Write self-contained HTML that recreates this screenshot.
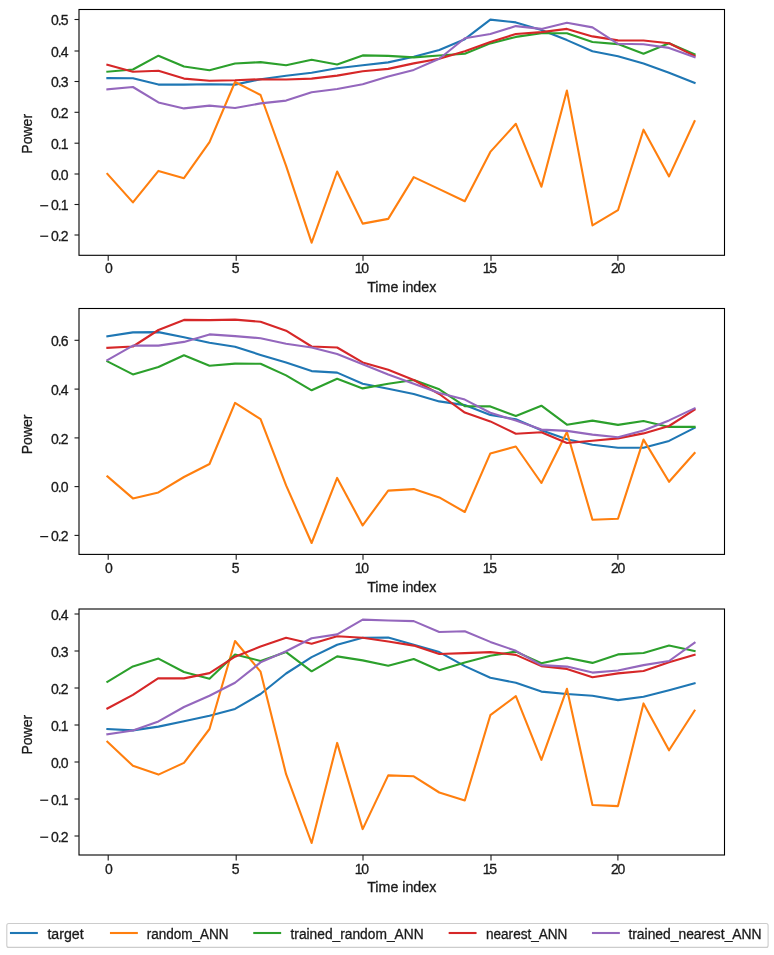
<!DOCTYPE html>
<html><head><meta charset="utf-8"><style>
html,body{margin:0;padding:0;background:#fff;width:774px;height:955px;overflow:hidden;font-family:"Liberation Sans",sans-serif;}
</style></head><body>
<svg width="774" height="955" viewBox="0 0 774 955" style="display:block;will-change:transform">
<rect width="774" height="955" fill="#fff"/>
<polyline points="107.38,78.10 132.91,78.20 158.44,84.60 183.97,84.60 209.50,84.20 235.03,84.60 260.56,79.20 286.09,75.80 311.62,72.70 337.15,68.20 362.68,65.20 388.21,62.40 413.74,56.80 439.27,50.00 464.80,39.20 490.33,19.60 515.86,22.40 541.39,29.90 566.92,40.10 592.45,51.30 617.98,56.30 643.51,63.40 669.04,72.70 694.57,82.90" fill="none" stroke="#1f77b4" stroke-width="2.1" stroke-linejoin="round" stroke-linecap="square"/>
<polyline points="107.38,173.90 132.91,202.40 158.44,170.90 183.97,178.20 209.50,142.10 235.03,82.00 260.56,95.00 286.09,165.90 311.62,242.70 337.15,171.50 362.68,223.60 388.21,218.90 413.74,177.10 439.27,189.10 464.80,201.20 490.33,151.90 515.86,123.80 541.39,186.70 566.92,90.60 592.45,225.40 617.98,210.20 643.51,129.70 669.04,176.40 694.57,121.20" fill="none" stroke="#ff7f0e" stroke-width="2.1" stroke-linejoin="round" stroke-linecap="square"/>
<polyline points="107.38,71.70 132.91,69.50 158.44,55.70 183.97,66.50 209.50,70.20 235.03,63.50 260.56,62.10 286.09,65.20 311.62,59.80 337.15,64.50 362.68,55.40 388.21,55.90 413.74,57.40 439.27,55.50 464.80,53.70 490.33,43.40 515.86,36.90 541.39,33.20 566.92,33.20 592.45,42.00 617.98,44.10 643.51,53.70 669.04,43.30 694.57,54.40" fill="none" stroke="#2ca02c" stroke-width="2.1" stroke-linejoin="round" stroke-linecap="square"/>
<polyline points="107.38,64.80 132.91,71.70 158.44,70.80 183.97,78.60 209.50,80.70 235.03,80.30 260.56,79.20 286.09,79.50 311.62,78.60 337.15,75.60 362.68,71.20 388.21,68.90 413.74,63.40 439.27,58.70 464.80,51.30 490.33,42.00 515.86,34.00 541.39,32.10 566.92,28.90 592.45,36.40 617.98,40.40 643.51,40.50 669.04,43.30 694.57,55.90" fill="none" stroke="#d62728" stroke-width="2.1" stroke-linejoin="round" stroke-linecap="square"/>
<polyline points="107.38,89.40 132.91,87.00 158.44,102.40 183.97,108.40 209.50,105.60 235.03,108.00 260.56,103.40 286.09,100.60 311.62,92.20 337.15,89.00 362.68,84.20 388.21,76.40 413.74,69.90 439.27,58.70 464.80,38.20 490.33,34.00 515.86,26.10 541.39,28.90 566.92,22.80 592.45,27.40 617.98,43.80 643.51,44.20 669.04,47.90 694.57,57.20" fill="none" stroke="#9467bd" stroke-width="2.1" stroke-linejoin="round" stroke-linecap="square"/>
<rect x="79.0" y="9.5" width="645.5" height="245.8" fill="none" stroke="#000" stroke-width="1.1"/>
<line x1="74.5" y1="19.5" x2="79.0" y2="19.5" stroke="#1a1a1a" stroke-width="1.1"/>
<text x="67.7" y="25.2" text-anchor="end" letter-spacing="-0.9" font-family="Liberation Sans, sans-serif" font-size="14" fill="#1a1a1a" stroke="#1a1a1a" stroke-width="0.3">0.5</text>
<line x1="74.5" y1="51.0" x2="79.0" y2="51.0" stroke="#1a1a1a" stroke-width="1.1"/>
<text x="67.7" y="56.7" text-anchor="end" letter-spacing="-0.9" font-family="Liberation Sans, sans-serif" font-size="14" fill="#1a1a1a" stroke="#1a1a1a" stroke-width="0.3">0.4</text>
<line x1="74.5" y1="81.5" x2="79.0" y2="81.5" stroke="#1a1a1a" stroke-width="1.1"/>
<text x="67.7" y="87.2" text-anchor="end" letter-spacing="-0.9" font-family="Liberation Sans, sans-serif" font-size="14" fill="#1a1a1a" stroke="#1a1a1a" stroke-width="0.3">0.3</text>
<line x1="74.5" y1="112.3" x2="79.0" y2="112.3" stroke="#1a1a1a" stroke-width="1.1"/>
<text x="67.7" y="118.0" text-anchor="end" letter-spacing="-0.9" font-family="Liberation Sans, sans-serif" font-size="14" fill="#1a1a1a" stroke="#1a1a1a" stroke-width="0.3">0.2</text>
<line x1="74.5" y1="143.2" x2="79.0" y2="143.2" stroke="#1a1a1a" stroke-width="1.1"/>
<text x="67.7" y="148.9" text-anchor="end" letter-spacing="-0.9" font-family="Liberation Sans, sans-serif" font-size="14" fill="#1a1a1a" stroke="#1a1a1a" stroke-width="0.3">0.1</text>
<line x1="74.5" y1="174.0" x2="79.0" y2="174.0" stroke="#1a1a1a" stroke-width="1.1"/>
<text x="67.7" y="179.7" text-anchor="end" letter-spacing="-0.9" font-family="Liberation Sans, sans-serif" font-size="14" fill="#1a1a1a" stroke="#1a1a1a" stroke-width="0.3">0.0</text>
<line x1="74.5" y1="204.5" x2="79.0" y2="204.5" stroke="#1a1a1a" stroke-width="1.1"/>
<rect x="40.2" y="205.10" width="8.0" height="1.25" fill="#1a1a1a"/>
<text x="67.7" y="210.2" text-anchor="end" letter-spacing="-0.9" font-family="Liberation Sans, sans-serif" font-size="14" fill="#1a1a1a" stroke="#1a1a1a" stroke-width="0.3">0.1</text>
<line x1="74.5" y1="235.0" x2="79.0" y2="235.0" stroke="#1a1a1a" stroke-width="1.1"/>
<rect x="40.2" y="235.60" width="8.0" height="1.25" fill="#1a1a1a"/>
<text x="67.7" y="240.7" text-anchor="end" letter-spacing="-0.9" font-family="Liberation Sans, sans-serif" font-size="14" fill="#1a1a1a" stroke="#1a1a1a" stroke-width="0.3">0.2</text>
<line x1="108.2" y1="255.3" x2="108.2" y2="260.7" stroke="#1a1a1a" stroke-width="1.1"/>
<text x="109.00" y="273.1" text-anchor="middle" font-family="Liberation Sans, sans-serif" font-size="14" fill="#1a1a1a" stroke="#1a1a1a" stroke-width="0.3">0</text>
<line x1="236.2" y1="255.3" x2="236.2" y2="260.7" stroke="#1a1a1a" stroke-width="1.1"/>
<text x="235.60" y="273.1" text-anchor="middle" font-family="Liberation Sans, sans-serif" font-size="14" fill="#1a1a1a" stroke="#1a1a1a" stroke-width="0.3">5</text>
<line x1="363.0" y1="255.3" x2="363.0" y2="260.7" stroke="#1a1a1a" stroke-width="1.1"/>
<text x="361.30" y="273.1" text-anchor="middle" letter-spacing="-1.3" font-family="Liberation Sans, sans-serif" font-size="14" fill="#1a1a1a" stroke="#1a1a1a" stroke-width="0.3">10</text>
<line x1="491.0" y1="255.3" x2="491.0" y2="260.7" stroke="#1a1a1a" stroke-width="1.1"/>
<text x="489.30" y="273.1" text-anchor="middle" letter-spacing="-1.3" font-family="Liberation Sans, sans-serif" font-size="14" fill="#1a1a1a" stroke="#1a1a1a" stroke-width="0.3">15</text>
<line x1="617.9" y1="255.3" x2="617.9" y2="260.7" stroke="#1a1a1a" stroke-width="1.1"/>
<text x="617.40" y="273.1" text-anchor="middle" letter-spacing="-1.3" font-family="Liberation Sans, sans-serif" font-size="14" fill="#1a1a1a" stroke="#1a1a1a" stroke-width="0.3">20</text>
<text x="401.75" y="291.5" text-anchor="middle" textLength="69.1" lengthAdjust="spacingAndGlyphs" font-family="Liberation Sans, sans-serif" font-size="14" fill="#1a1a1a" stroke="#1a1a1a" stroke-width="0.3">Time index</text>
<text x="0" y="0" transform="translate(31.6 133.8) rotate(-90)" text-anchor="middle" font-family="Liberation Sans, sans-serif" font-size="14" fill="#1a1a1a" stroke="#1a1a1a" stroke-width="0.3">Power</text>
<polyline points="107.38,336.30 132.91,332.40 158.44,332.10 183.97,337.20 209.50,342.80 235.03,346.80 260.56,354.90 286.09,362.40 311.62,371.10 337.15,372.60 362.68,383.70 388.21,388.80 413.74,394.00 439.27,401.40 464.80,405.10 490.33,414.90 515.86,419.30 541.39,430.20 566.92,439.20 592.45,444.80 617.98,447.70 643.51,447.70 669.04,440.90 694.57,427.80" fill="none" stroke="#1f77b4" stroke-width="2.1" stroke-linejoin="round" stroke-linecap="square"/>
<polyline points="107.38,476.40 132.91,498.40 158.44,492.40 183.97,477.00 209.50,464.00 235.03,402.90 260.56,419.10 286.09,485.40 311.62,543.00 337.15,477.90 362.68,525.40 388.21,490.60 413.74,489.10 439.27,497.40 464.80,512.00 490.33,453.40 515.86,446.50 541.39,483.00 566.92,432.00 592.45,519.80 617.98,518.80 643.51,439.60 669.04,481.80 694.57,453.00" fill="none" stroke="#ff7f0e" stroke-width="2.1" stroke-linejoin="round" stroke-linecap="square"/>
<polyline points="107.38,361.40 132.91,374.40 158.44,367.00 183.97,355.30 209.50,365.70 235.03,363.60 260.56,363.80 286.09,375.40 311.62,390.30 337.15,378.70 362.68,388.40 388.21,383.70 413.74,380.00 439.27,389.30 464.80,406.10 490.33,406.40 515.86,416.00 541.39,405.70 566.92,424.70 592.45,420.60 617.98,424.90 643.51,421.00 669.04,426.90 694.57,426.90" fill="none" stroke="#2ca02c" stroke-width="2.1" stroke-linejoin="round" stroke-linecap="square"/>
<polyline points="107.38,347.80 132.91,346.50 158.44,330.00 183.97,319.90 209.50,320.10 235.03,319.60 260.56,321.80 286.09,330.70 311.62,346.50 337.15,347.50 362.68,362.40 388.21,369.80 413.74,380.00 439.27,394.00 464.80,412.60 490.33,421.40 515.86,433.70 541.39,432.20 566.92,443.00 592.45,440.70 617.98,438.40 643.51,433.40 669.04,426.00 694.57,409.80" fill="none" stroke="#d62728" stroke-width="2.1" stroke-linejoin="round" stroke-linecap="square"/>
<polyline points="107.38,360.10 132.91,345.60 158.44,345.60 183.97,341.90 209.50,334.40 235.03,336.10 260.56,338.20 286.09,343.70 311.62,347.50 337.15,354.00 362.68,364.20 388.21,374.40 413.74,383.70 439.27,393.10 464.80,399.60 490.33,412.70 515.86,420.60 541.39,429.60 566.92,430.90 592.45,434.60 617.98,437.20 643.51,430.60 669.04,420.40 694.57,408.30" fill="none" stroke="#9467bd" stroke-width="2.1" stroke-linejoin="round" stroke-linecap="square"/>
<rect x="79.0" y="308.5" width="645.5" height="245.89999999999998" fill="none" stroke="#000" stroke-width="1.1"/>
<line x1="74.5" y1="340.3" x2="79.0" y2="340.3" stroke="#1a1a1a" stroke-width="1.1"/>
<text x="67.7" y="346.0" text-anchor="end" letter-spacing="-0.9" font-family="Liberation Sans, sans-serif" font-size="14" fill="#1a1a1a" stroke="#1a1a1a" stroke-width="0.3">0.6</text>
<line x1="74.5" y1="389.1" x2="79.0" y2="389.1" stroke="#1a1a1a" stroke-width="1.1"/>
<text x="67.7" y="394.8" text-anchor="end" letter-spacing="-0.9" font-family="Liberation Sans, sans-serif" font-size="14" fill="#1a1a1a" stroke="#1a1a1a" stroke-width="0.3">0.4</text>
<line x1="74.5" y1="437.9" x2="79.0" y2="437.9" stroke="#1a1a1a" stroke-width="1.1"/>
<text x="67.7" y="443.6" text-anchor="end" letter-spacing="-0.9" font-family="Liberation Sans, sans-serif" font-size="14" fill="#1a1a1a" stroke="#1a1a1a" stroke-width="0.3">0.2</text>
<line x1="74.5" y1="486.6" x2="79.0" y2="486.6" stroke="#1a1a1a" stroke-width="1.1"/>
<text x="67.7" y="492.3" text-anchor="end" letter-spacing="-0.9" font-family="Liberation Sans, sans-serif" font-size="14" fill="#1a1a1a" stroke="#1a1a1a" stroke-width="0.3">0.0</text>
<line x1="74.5" y1="535.4" x2="79.0" y2="535.4" stroke="#1a1a1a" stroke-width="1.1"/>
<rect x="40.2" y="536.00" width="8.0" height="1.25" fill="#1a1a1a"/>
<text x="67.7" y="541.1" text-anchor="end" letter-spacing="-0.9" font-family="Liberation Sans, sans-serif" font-size="14" fill="#1a1a1a" stroke="#1a1a1a" stroke-width="0.3">0.2</text>
<line x1="108.2" y1="554.4" x2="108.2" y2="559.8" stroke="#1a1a1a" stroke-width="1.1"/>
<text x="109.00" y="573.3" text-anchor="middle" font-family="Liberation Sans, sans-serif" font-size="14" fill="#1a1a1a" stroke="#1a1a1a" stroke-width="0.3">0</text>
<line x1="236.2" y1="554.4" x2="236.2" y2="559.8" stroke="#1a1a1a" stroke-width="1.1"/>
<text x="235.60" y="573.3" text-anchor="middle" font-family="Liberation Sans, sans-serif" font-size="14" fill="#1a1a1a" stroke="#1a1a1a" stroke-width="0.3">5</text>
<line x1="363.0" y1="554.4" x2="363.0" y2="559.8" stroke="#1a1a1a" stroke-width="1.1"/>
<text x="361.30" y="573.3" text-anchor="middle" letter-spacing="-1.3" font-family="Liberation Sans, sans-serif" font-size="14" fill="#1a1a1a" stroke="#1a1a1a" stroke-width="0.3">10</text>
<line x1="491.0" y1="554.4" x2="491.0" y2="559.8" stroke="#1a1a1a" stroke-width="1.1"/>
<text x="489.30" y="573.3" text-anchor="middle" letter-spacing="-1.3" font-family="Liberation Sans, sans-serif" font-size="14" fill="#1a1a1a" stroke="#1a1a1a" stroke-width="0.3">15</text>
<line x1="617.9" y1="554.4" x2="617.9" y2="559.8" stroke="#1a1a1a" stroke-width="1.1"/>
<text x="617.40" y="573.3" text-anchor="middle" letter-spacing="-1.3" font-family="Liberation Sans, sans-serif" font-size="14" fill="#1a1a1a" stroke="#1a1a1a" stroke-width="0.3">20</text>
<text x="401.75" y="591.5" text-anchor="middle" textLength="69.1" lengthAdjust="spacingAndGlyphs" font-family="Liberation Sans, sans-serif" font-size="14" fill="#1a1a1a" stroke="#1a1a1a" stroke-width="0.3">Time index</text>
<text x="0" y="0" transform="translate(31.6 434.4) rotate(-90)" text-anchor="middle" font-family="Liberation Sans, sans-serif" font-size="14" fill="#1a1a1a" stroke="#1a1a1a" stroke-width="0.3">Power</text>
<polyline points="107.38,729.10 132.91,730.40 158.44,726.60 183.97,721.30 209.50,715.70 235.03,708.90 260.56,694.00 286.09,673.50 311.62,657.10 337.15,644.70 362.68,637.70 388.21,637.60 413.74,644.70 439.27,652.10 464.80,666.10 490.33,677.80 515.86,682.80 541.39,691.60 566.92,694.00 592.45,695.80 617.98,700.10 643.51,696.70 669.04,690.20 694.57,683.30" fill="none" stroke="#1f77b4" stroke-width="2.1" stroke-linejoin="round" stroke-linecap="square"/>
<polyline points="107.38,741.70 132.91,765.80 158.44,774.60 183.97,762.90 209.50,729.00 235.03,641.00 260.56,671.70 286.09,774.20 311.62,843.00 337.15,742.90 362.68,829.10 388.21,775.40 413.74,776.30 439.27,792.50 464.80,800.50 490.33,715.20 515.86,696.20 541.39,759.90 566.92,688.80 592.45,805.00 617.98,806.10 643.51,703.40 669.04,750.30 694.57,710.60" fill="none" stroke="#ff7f0e" stroke-width="2.1" stroke-linejoin="round" stroke-linecap="square"/>
<polyline points="107.38,681.90 132.91,666.40 158.44,658.60 183.97,672.00 209.50,678.70 235.03,654.50 260.56,660.90 286.09,652.10 311.62,671.30 337.15,656.40 362.68,660.40 388.21,665.70 413.74,659.00 439.27,670.20 464.80,662.40 490.33,655.80 515.86,651.60 541.39,663.30 566.92,657.70 592.45,662.90 617.98,654.40 643.51,653.00 669.04,645.50 694.57,651.10" fill="none" stroke="#2ca02c" stroke-width="2.1" stroke-linejoin="round" stroke-linecap="square"/>
<polyline points="107.38,708.50 132.91,694.90 158.44,678.20 183.97,678.40 209.50,673.10 235.03,656.70 260.56,646.50 286.09,637.80 311.62,643.70 337.15,636.30 362.68,637.80 388.21,641.50 413.74,645.60 439.27,654.00 464.80,653.10 490.33,652.10 515.86,654.90 541.39,666.10 566.92,668.90 592.45,677.20 617.98,673.40 643.51,671.00 669.04,662.30 694.57,654.80" fill="none" stroke="#d62728" stroke-width="2.1" stroke-linejoin="round" stroke-linecap="square"/>
<polyline points="107.38,734.20 132.91,730.50 158.44,721.40 183.97,707.00 209.50,695.80 235.03,682.80 260.56,662.40 286.09,651.20 311.62,638.20 337.15,634.40 362.68,619.60 388.21,620.50 413.74,621.10 439.27,632.00 464.80,631.30 490.33,641.90 515.86,650.80 541.39,665.10 566.92,666.60 592.45,672.60 617.98,670.50 643.51,665.10 669.04,661.00 694.57,642.70" fill="none" stroke="#9467bd" stroke-width="2.1" stroke-linejoin="round" stroke-linecap="square"/>
<rect x="79.0" y="609.0" width="645.5" height="246.0" fill="none" stroke="#000" stroke-width="1.1"/>
<line x1="74.5" y1="614.0" x2="79.0" y2="614.0" stroke="#1a1a1a" stroke-width="1.1"/>
<text x="67.7" y="619.7" text-anchor="end" letter-spacing="-0.9" font-family="Liberation Sans, sans-serif" font-size="14" fill="#1a1a1a" stroke="#1a1a1a" stroke-width="0.3">0.4</text>
<line x1="74.5" y1="651.0" x2="79.0" y2="651.0" stroke="#1a1a1a" stroke-width="1.1"/>
<text x="67.7" y="656.7" text-anchor="end" letter-spacing="-0.9" font-family="Liberation Sans, sans-serif" font-size="14" fill="#1a1a1a" stroke="#1a1a1a" stroke-width="0.3">0.3</text>
<line x1="74.5" y1="688.0" x2="79.0" y2="688.0" stroke="#1a1a1a" stroke-width="1.1"/>
<text x="67.7" y="693.7" text-anchor="end" letter-spacing="-0.9" font-family="Liberation Sans, sans-serif" font-size="14" fill="#1a1a1a" stroke="#1a1a1a" stroke-width="0.3">0.2</text>
<line x1="74.5" y1="725.0" x2="79.0" y2="725.0" stroke="#1a1a1a" stroke-width="1.1"/>
<text x="67.7" y="730.7" text-anchor="end" letter-spacing="-0.9" font-family="Liberation Sans, sans-serif" font-size="14" fill="#1a1a1a" stroke="#1a1a1a" stroke-width="0.3">0.1</text>
<line x1="74.5" y1="762.0" x2="79.0" y2="762.0" stroke="#1a1a1a" stroke-width="1.1"/>
<text x="67.7" y="767.7" text-anchor="end" letter-spacing="-0.9" font-family="Liberation Sans, sans-serif" font-size="14" fill="#1a1a1a" stroke="#1a1a1a" stroke-width="0.3">0.0</text>
<line x1="74.5" y1="799.0" x2="79.0" y2="799.0" stroke="#1a1a1a" stroke-width="1.1"/>
<rect x="40.2" y="799.60" width="8.0" height="1.25" fill="#1a1a1a"/>
<text x="67.7" y="804.7" text-anchor="end" letter-spacing="-0.9" font-family="Liberation Sans, sans-serif" font-size="14" fill="#1a1a1a" stroke="#1a1a1a" stroke-width="0.3">0.1</text>
<line x1="74.5" y1="836.0" x2="79.0" y2="836.0" stroke="#1a1a1a" stroke-width="1.1"/>
<rect x="40.2" y="836.60" width="8.0" height="1.25" fill="#1a1a1a"/>
<text x="67.7" y="841.7" text-anchor="end" letter-spacing="-0.9" font-family="Liberation Sans, sans-serif" font-size="14" fill="#1a1a1a" stroke="#1a1a1a" stroke-width="0.3">0.2</text>
<line x1="108.2" y1="855.0" x2="108.2" y2="860.4" stroke="#1a1a1a" stroke-width="1.1"/>
<text x="109.00" y="874.0" text-anchor="middle" font-family="Liberation Sans, sans-serif" font-size="14" fill="#1a1a1a" stroke="#1a1a1a" stroke-width="0.3">0</text>
<line x1="236.2" y1="855.0" x2="236.2" y2="860.4" stroke="#1a1a1a" stroke-width="1.1"/>
<text x="235.60" y="874.0" text-anchor="middle" font-family="Liberation Sans, sans-serif" font-size="14" fill="#1a1a1a" stroke="#1a1a1a" stroke-width="0.3">5</text>
<line x1="363.0" y1="855.0" x2="363.0" y2="860.4" stroke="#1a1a1a" stroke-width="1.1"/>
<text x="361.30" y="874.0" text-anchor="middle" letter-spacing="-1.3" font-family="Liberation Sans, sans-serif" font-size="14" fill="#1a1a1a" stroke="#1a1a1a" stroke-width="0.3">10</text>
<line x1="491.0" y1="855.0" x2="491.0" y2="860.4" stroke="#1a1a1a" stroke-width="1.1"/>
<text x="489.30" y="874.0" text-anchor="middle" letter-spacing="-1.3" font-family="Liberation Sans, sans-serif" font-size="14" fill="#1a1a1a" stroke="#1a1a1a" stroke-width="0.3">15</text>
<line x1="617.9" y1="855.0" x2="617.9" y2="860.4" stroke="#1a1a1a" stroke-width="1.1"/>
<text x="617.40" y="874.0" text-anchor="middle" letter-spacing="-1.3" font-family="Liberation Sans, sans-serif" font-size="14" fill="#1a1a1a" stroke="#1a1a1a" stroke-width="0.3">20</text>
<text x="401.75" y="892.0" text-anchor="middle" textLength="69.1" lengthAdjust="spacingAndGlyphs" font-family="Liberation Sans, sans-serif" font-size="14" fill="#1a1a1a" stroke="#1a1a1a" stroke-width="0.3">Time index</text>
<text x="0" y="0" transform="translate(31.6 734.7) rotate(-90)" text-anchor="middle" font-family="Liberation Sans, sans-serif" font-size="14" fill="#1a1a1a" stroke="#1a1a1a" stroke-width="0.3">Power</text>
<rect x="6.8" y="923.5" width="761.3" height="23.9" rx="2" fill="#fff" stroke="#cccccc" stroke-width="1.1"/>
<line x1="11.0" y1="933.0" x2="36.8" y2="933.0" stroke="#1f77b4" stroke-width="2.1" stroke-linecap="square"/>
<text x="47.40" y="938.7" textLength="36.2" lengthAdjust="spacingAndGlyphs" font-family="Liberation Sans, sans-serif" font-size="14" fill="#1a1a1a" stroke="#1a1a1a" stroke-width="0.3">target</text>
<line x1="111.0" y1="933.0" x2="136.8" y2="933.0" stroke="#ff7f0e" stroke-width="2.1" stroke-linecap="square"/>
<text x="146.65" y="938.7" textLength="81.9" lengthAdjust="spacingAndGlyphs" font-family="Liberation Sans, sans-serif" font-size="14" fill="#1a1a1a" stroke="#1a1a1a" stroke-width="0.3">random_ANN</text>
<line x1="254.3" y1="933.0" x2="280.1" y2="933.0" stroke="#2ca02c" stroke-width="2.1" stroke-linecap="square"/>
<text x="290.50" y="938.7" textLength="133.1" lengthAdjust="spacingAndGlyphs" font-family="Liberation Sans, sans-serif" font-size="14" fill="#1a1a1a" stroke="#1a1a1a" stroke-width="0.3">trained_random_ANN</text>
<line x1="449.7" y1="933.0" x2="475.5" y2="933.0" stroke="#d62728" stroke-width="2.1" stroke-linecap="square"/>
<text x="486.00" y="938.7" textLength="81.4" lengthAdjust="spacingAndGlyphs" font-family="Liberation Sans, sans-serif" font-size="14" fill="#1a1a1a" stroke="#1a1a1a" stroke-width="0.3">nearest_ANN</text>
<line x1="593.0" y1="933.0" x2="618.8" y2="933.0" stroke="#9467bd" stroke-width="2.1" stroke-linecap="square"/>
<text x="628.40" y="938.7" textLength="133.2" lengthAdjust="spacingAndGlyphs" font-family="Liberation Sans, sans-serif" font-size="14" fill="#1a1a1a" stroke="#1a1a1a" stroke-width="0.3">trained_nearest_ANN</text>
</svg>
</body></html>
